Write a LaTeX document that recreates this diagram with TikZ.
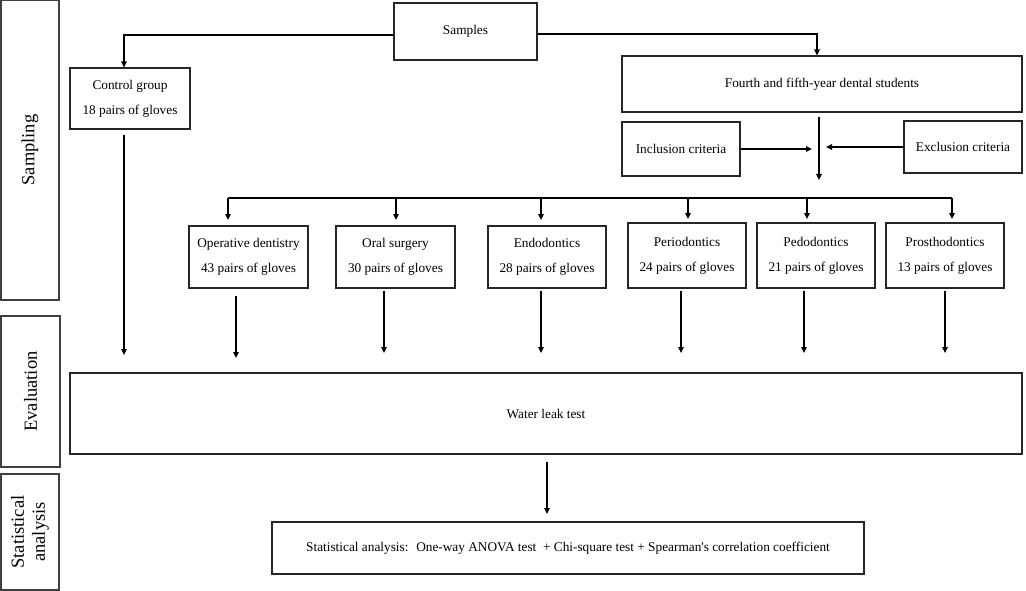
\documentclass[tikz,border=0pt]{standalone}
\usepackage{fontspec}
\setmainfont{Liberation Serif}
\usetikzlibrary{arrows.meta}
\begin{document}
\begin{tikzpicture}[x=1pt,y=-1pt,
  box/.style={draw=black!85, line width=1.1pt, inner sep=0pt, align=center,
    font=\fontsize{13.3}{25}\selectfont},
  side/.style={draw=black!75, line width=1.1pt, inner sep=0pt, align=center,
    font=\fontsize{18.5}{21}\selectfont},
  conn/.style={line width=1.5pt, black},
  arr/.style={conn, -{Triangle[length=6pt,width=5.5pt]}}]
\useasboundingbox (0,0) rectangle (1026,591);
% side panels
\node[side, minimum width=58pt, minimum height=300pt] (s1) at (30,150) {};
\node[rotate=90, font=\fontsize{18.5}{21}\selectfont] (s1t) at (s1.center) {Sampling};
\node[side, minimum width=59pt, minimum height=151pt] (s2) at (30.5,391.5) {};
\node[rotate=90, font=\fontsize{18.5}{21}\selectfont] (s2t) at (s2.center) {Evaluation};
\node[side, minimum width=58pt, minimum height=116pt] (s3) at (30,532) {};
\node[rotate=90, align=center, font=\fontsize{18.5}{21}\selectfont] (s3t) at (s3.center) {Statistical\\analysis};
% main boxes
\node[box, minimum width=143pt, minimum height=57pt] (samples) at (465.5,31.5) {Samples};
\node[box, minimum width=120pt, minimum height=61pt] (control) at (130,98.5) {Control group\\18 pairs of gloves};
\node[box, minimum width=400pt, minimum height=56pt] (fourth) at (822,84) {Fourth and fifth-year dental students};
\node[box, minimum width=118pt, minimum height=54pt] (incl) at (681,149) {Inclusion criteria};
\node[box, minimum width=118pt, minimum height=52pt] (excl) at (963,147) {Exclusion criteria};
\node[box, minimum width=119pt, minimum height=62pt] (op) at (248.5,257) {Operative dentistry\\43 pairs of gloves};
\node[box, minimum width=119pt, minimum height=62pt] (oral) at (395.5,257) {Oral surgery\\30 pairs of gloves};
\node[box, minimum width=118pt, minimum height=62pt] (endo) at (547,257) {Endodontics\\28 pairs of gloves};
\node[box, minimum width=118pt, minimum height=65pt] (perio) at (687,255.5) {Periodontics\\24 pairs of gloves};
\node[box, minimum width=118pt, minimum height=65pt] (pedo) at (816,255.5) {Pedodontics\\21 pairs of gloves};
\node[box, minimum width=118pt, minimum height=65pt] (pros) at (945,255.5) {Prosthodontics\\13 pairs of gloves};
\node[box, minimum width=952pt, minimum height=81pt] (water) at (546,413.5) {Water leak test};
\node[box, minimum width=592pt, minimum height=52pt] (stat) at (568,548) {Statistical analysis:~ One-way ANOVA test~ + Chi-square test + Spearman\textquotesingle s correlation coefficient};
% samples branches
\draw[arr] ([yshift=-3.5pt]samples.west) -| ([xshift=-6pt]control.north);
\draw[arr] ([yshift=-2.5pt]samples.east) -| ([xshift=-5pt]fourth.north);
% fourth down with criteria
\coordinate (mid) at (819,180);
\draw[arr, shorten <=4pt] (mid |- fourth.south) -- (mid);
\coordinate (inTip) at (812,149);
\draw[arr] (incl.east) -- (inTip);
\coordinate (exTip) at (826,147);
\draw[arr] (excl.west) -- (exTip);
% bus
\coordinate (busL) at (228,198);
\coordinate (busR) at (952,198);
\draw[conn] (busL) -- (busR);
\coordinate (opT) at (228,226);
\coordinate (oralT) at (396,226);
\coordinate (endoT) at (541,226);
\coordinate (perioT) at (688,223);
\coordinate (pedoT) at (807,223);
\coordinate (prosT) at (952,223);
\draw[arr, shorten >=6pt] (opT |- busL) -- (opT);
\draw[arr, shorten >=6pt] (oralT |- busL) -- (oralT);
\draw[arr, shorten >=6pt] (endoT |- busL) -- (endoT);
\draw[arr, shorten >=4pt] (perioT |- busL) -- (perioT);
\draw[arr, shorten >=4pt] (pedoT |- busL) -- (pedoT);
\draw[arr, shorten >=4pt] (prosT |- busL) -- (prosT);
% down to water
\coordinate (ctB) at (124,355);
\coordinate (opB) at (236,358);
\coordinate (oralB) at (384,353);
\coordinate (endoB) at (541,353);
\coordinate (perioB) at (681,353);
\coordinate (pedoB) at (804,353);
\coordinate (prosB) at (945,353);
\draw[arr, shorten <=5pt] (ctB |- control.south) -- (ctB);
\draw[arr, shorten <=7pt] (opB |- op.south) -- (opB);
\draw[arr, shorten <=2pt] (oralB |- oral.south) -- (oralB);
\draw[arr, shorten <=2pt] (endoB |- endo.south) -- (endoB);
\draw[arr, shorten <=2pt] (perioB |- perio.south) -- (perioB);
\draw[arr, shorten <=2pt] (pedoB |- pedo.south) -- (pedoB);
\draw[arr, shorten <=2pt] (prosB |- pros.south) -- (prosB);
% water to stat
\coordinate (wsB) at (547,514);
\draw[arr, shorten <=7pt] (wsB |- water.south) -- (wsB);
\end{tikzpicture}
\end{document}
